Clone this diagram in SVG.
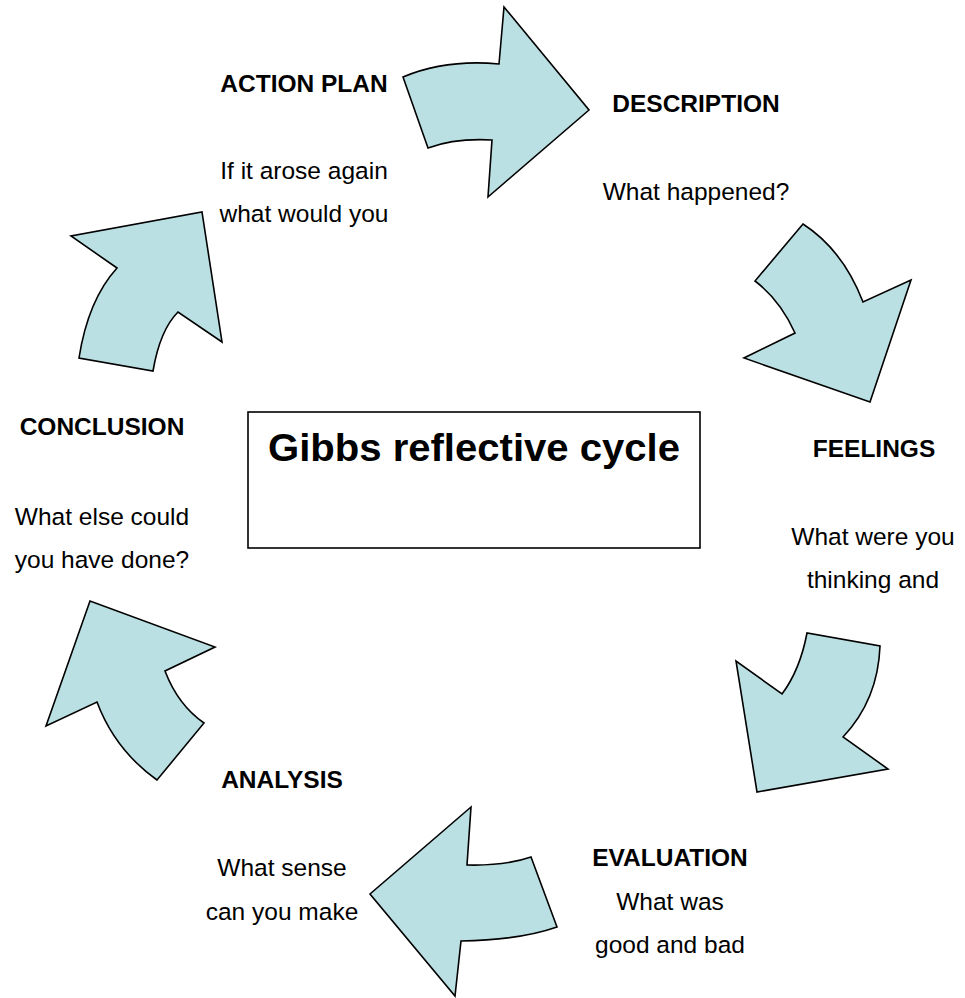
<svg xmlns="http://www.w3.org/2000/svg" width="965" height="998" viewBox="0 0 965 998">
  <style>
    .arrow { fill: #BBE0E3; stroke: #000; stroke-width: 1.6; stroke-linejoin: miter; }
    .box { fill: #fff; stroke: #000; stroke-width: 1.6; }
    text { font-family: "Liberation Sans", Arial, Helvetica, sans-serif; fill: #000; text-anchor: middle; font-size: 24.5px; }
    .head { font-weight: bold; }
    .title { font-weight: bold; font-size: 38px; }
  </style>
  <rect width="965" height="998" fill="#fff"/>

  <!-- curved block arrows running clockwise round the cycle -->
  <g id="connectors">
    <path id="arrow-plan-description" class="arrow" d="M403,77 Q446,59 499,64 L504,7 L589,110 L488,197 L492,140 Q455,138 428,148 Z"/>
    <path id="arrow-description-feelings" class="arrow" d="M803,224 Q843,250 863,302 L911,280 L870,402 L744,358 L795,333 Q780,300 755,281 Z"/>
    <path id="arrow-feelings-evaluation" class="arrow" d="M880,646 Q878,700 843,737 L888,769 L757,792 L736,661 L782,694 Q800,670 807,633 Z"/>
    <path id="arrow-evaluation-analysis" class="arrow" d="M531,857 Q505,866 467,865 L471,807 L370,894 L455,996 L461,941 Q520,940 557,927 Z"/>
    <path id="arrow-analysis-conclusion" class="arrow" d="M204,723 Q178,705 165,671 L215,647 L90,601 L46,726 L97,702 Q115,750 157,780 Z"/>
    <path id="arrow-conclusion-plan" class="arrow" d="M79,358 Q88,300 117,268 L71,236 L202,212 L222,342 L178,312 Q160,330 153,371 Z"/>
  </g>

  <g id="title">
    <rect class="box" x="248" y="412" width="452" height="136"/>
    <text class="title" x="474" y="461" textLength="412" lengthAdjust="spacingAndGlyphs">Gibbs reflective cycle</text>
  </g>

  <g id="description">
    <text class="head" x="696" y="112">DESCRIPTION</text>
    <text x="696" y="200">What happened?</text>
  </g>

  <g id="feelings">
    <text class="head" x="874" y="457">FEELINGS</text>
    <text x="873" y="545">What were you</text>
    <text x="873" y="588">thinking and</text>
  </g>

  <g id="evaluation">
    <text class="head" x="670" y="866">EVALUATION</text>
    <text x="670" y="910">What was</text>
    <text x="670" y="953">good and bad</text>
  </g>

  <g id="analysis">
    <text class="head" x="282" y="788">ANALYSIS</text>
    <text x="282" y="876">What sense</text>
    <text x="282" y="920">can you make</text>
  </g>

  <g id="conclusion">
    <text class="head" x="102" y="435">CONCLUSION</text>
    <text x="102" y="525">What else could</text>
    <text x="102" y="568">you have done?</text>
  </g>

  <g id="action-plan">
    <text class="head" x="304" y="92">ACTION PLAN</text>
    <text x="304" y="179">If it arose again</text>
    <text x="304" y="222">what would you</text>
  </g>
</svg>
